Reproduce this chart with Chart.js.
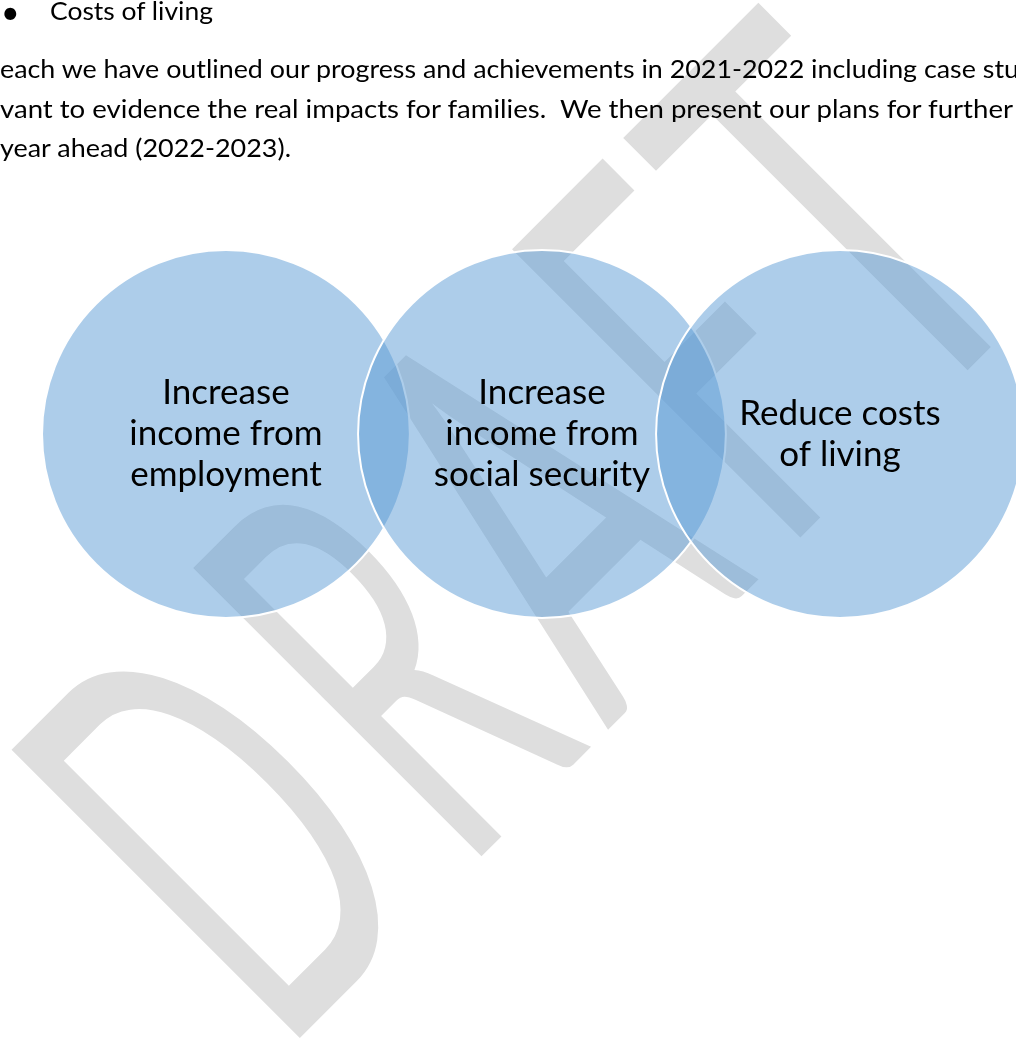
<!DOCTYPE html>
<html>
<head>
<meta charset="utf-8">
<script src="https://cdn.jsdelivr.net/npm/chart.js@4"></script>
<style>
  html, body { margin: 0; padding: 0; background: #fff; }
  body { width: 1016px; height: 1041px; position: relative; overflow: hidden; }
  #venn { position: absolute; left: 0; top: 0; }
  .line {
    position: absolute; left: 0; z-index: 2;
    font-family: Lato, "Noto Sans", sans-serif; font-size: 25px; line-height: 30px;
    color: #000; white-space: pre; transform-origin: 0 0;
  }
</style>
</head>
<body>
<canvas id="venn" width="1016" height="1041"></canvas>
<div class="line" style="left:1px;top:-8px;font-size:32px;line-height:40px">•</div>
<div class="line" data-w="163" style="left:50px;top:-4.7px">Costs of living</div>
<div class="line" data-w="1019" style="top:53.3px">each we have outlined our progress and achievements in 2021-2022 including case stu</div>
<div class="line" data-w="1013" style="top:93.3px">vant to evidence the real impacts for families.  We then present our plans for further</div>
<div class="line" data-w="291" style="top:132.3px">year ahead (2022-2023).</div>
<script>
// VENN DATA
const circleLabels = [
  ["Increase", "income from", "employment"],
  ["Increase", "income from", "social security"],
  ["Reduce costs", "of living"]
];
const centreX = [1, 2, 2.943];
const centreY = [0, 0, 0];
const circleSize = [0.582, 0.582, 0.582];

// stretch each paragraph line to the width it has in the document
document.querySelectorAll(".line[data-w]").forEach(el => {
  const w = el.getBoundingClientRect().width;
  el.style.transform = `scaleX(${el.dataset.w / w})`;
});

// DRAFT watermark, drawn behind the circles
const watermark = {
  id: "watermark",
  beforeDatasetsDraw(chart) {
    const c = chart.ctx;
    const letters = ["D", "R", "A", "F", "T"];
    const left = [-526, -269, -87, 182, 338];
    const right = [-333, -109, 131, 318, 535];
    const top = 537, base = 946;
    c.save();
    c.font = "400 400px Lato";
    c.textAlign = "left";
    c.textBaseline = "alphabetic";
    c.fillStyle = "#dedede";
    c.strokeStyle = "#dedede";
    c.lineJoin = "round";
    const cap = c.measureText("H").actualBoundingBoxAscent;
    const sy = (base - top) / cap;
    c.rotate(-Math.PI / 4);
    letters.forEach((ch, i) => {
      const m = c.measureText(ch);
      const inkW = m.actualBoundingBoxLeft + m.actualBoundingBoxRight;
      const sx = (right[i] - left[i]) / inkW;
      c.save();
      c.translate(left[i], base);
      c.scale(sx, sy);
      c.fillText(ch, m.actualBoundingBoxLeft, 0);
      c.restore();
    });
    c.restore();
  }
};

// circle captions
const captions = {
  id: "captions",
  afterDatasetsDraw(chart) {
    const c = chart.ctx;
    const meta = chart.getDatasetMeta(0);
    c.save();
    c.font = "35px Lato";
    c.fillStyle = "#000";
    c.textAlign = "center";
    c.textBaseline = "alphabetic";
    meta.data.forEach((pt, i) => {
      const lines = circleLabels[i];
      lines.forEach((txt, j) => {
        c.fillText(txt, pt.x, pt.y + 11 + (j - (lines.length - 1) / 2) * 41);
      });
    });
    c.restore();
  }
};

const chart = new Chart(document.getElementById("venn"), {
  type: "bubble",
  data: {
    labels: circleLabels.map(l => l.join(" ")),
    datasets: [{
      data: centreX.map((x, i) => ({ x, y: centreY[i], r: 0, size: circleSize[i] })),
      backgroundColor: "rgba(91,155,213,0.5)",
      borderColor: "#ffffff",
      borderWidth: 2,
      clip: false
    }]
  },
  options: {
    responsive: false,
    animation: false,
    events: [],
    layout: { autoPadding: false, padding: { left: 0, right: 0, top: 0, bottom: 173 } },
    plugins: {
      legend: { display: false },
      tooltip: { enabled: false }
    },
    scales: {
      x: { type: "linear", min: 0.285, max: 3.5, display: false },
      y: { type: "linear", min: -1, max: 1, display: false }
    }
  },
  plugins: [watermark, captions]
});

// circle sizes are in x-axis units: turn them into pixel radii once the scale exists
const xs = chart.scales.x;
chart.data.datasets[0].data.forEach(p => {
  p.r = xs.getPixelForValue(p.x + p.size) - xs.getPixelForValue(p.x);
});
chart.update();
</script>
</body>
</html>
